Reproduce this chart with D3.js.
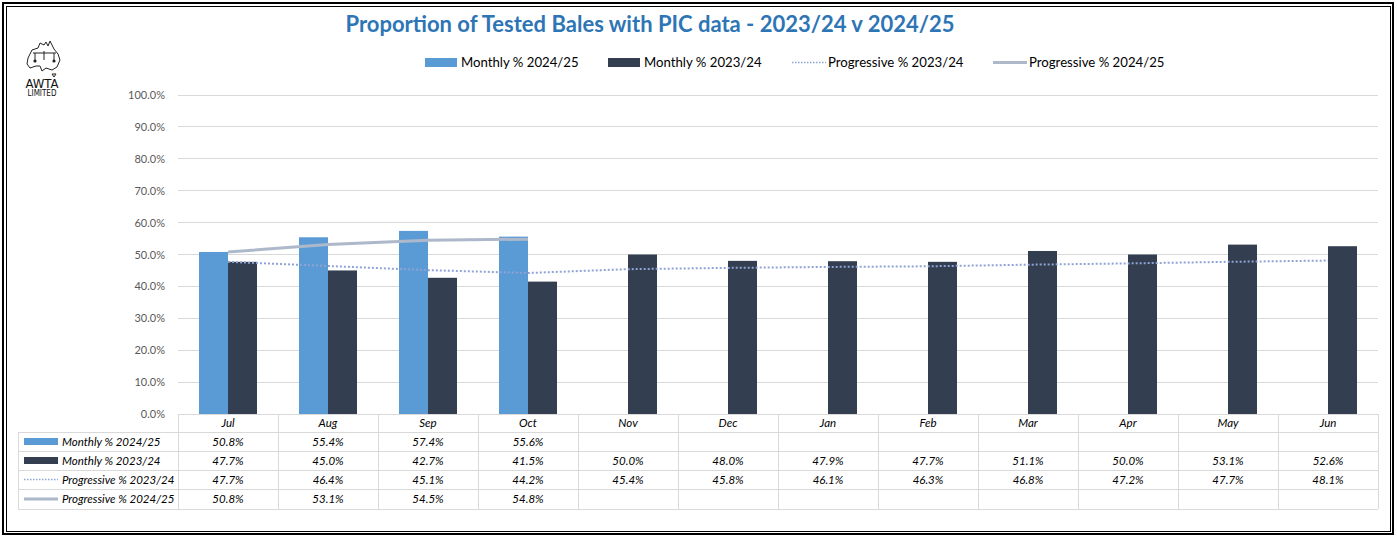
<!DOCTYPE html>
<html><head><meta charset="utf-8">
<script src="https://cdn.jsdelivr.net/npm/d3@7"></script>
<style>
html,body{margin:0;padding:0;background:#fff;}
svg{display:block;font-family:Lato,"Open Sans",sans-serif;}
</style></head>
<body><svg id="c" width="1397" height="538"></svg>
<script>
const months = ["Jul","Aug","Sep","Oct","Nov","Dec","Jan","Feb","Mar","Apr","May","Jun"];
const monthly2425 = [50.8,55.4,57.4,55.6];
const monthly2324 = [47.7,45.0,42.7,41.5,50.0,48.0,47.9,47.7,51.1,50.0,53.1,52.6];
const progressive2324 = [47.7,46.4,45.1,44.2,45.4,45.8,46.1,46.3,46.8,47.2,47.7,48.1];
const progressive2425 = [50.8,53.1,54.5,54.8];
const yTicks = [0,10,20,30,40,50,60,70,80,90,100];
const seriesNames = ["Monthly % 2024/25","Monthly % 2023/24","Progressive % 2023/24","Progressive % 2024/25"];
const titleText = "Proportion of Tested Bales with PIC data - 2023/24 v 2024/25";

const C_LIGHT="#5B9BD5", C_DARK="#333F50", C_DOT="#8FA3D6", C_GRAY="#ADB9CA";
const svg = d3.select("#c");

// frame
svg.append("rect").attr("x",3).attr("y",3).attr("width",1390).attr("height",531).attr("fill","none").attr("stroke","#000").attr("stroke-width",2);
svg.append("rect").attr("x",6.5).attr("y",6.5).attr("width",1384).attr("height",525).attr("fill","none").attr("stroke","#000").attr("stroke-width",1);

// title
svg.append("text").attr("x",650).attr("y",32).attr("text-anchor","middle")
  .attr("font-size",22).attr("font-weight","bold").attr("fill","#2E75B6").text(titleText);

// logo
const logo = svg.append("g").attr("transform","translate(24,40)");
logo.append("path").attr("d","M4,18 L8,10 L14,8 L16,3 L20,5 L22,2 L24,6 L26,1 L30,9 L34,14 L36,20 L33,27 L28,30 L22,28 L18,31 L16,26 L12,26 L6,28 L3,24 Z")
  .attr("fill","none").attr("stroke","#222").attr("stroke-width",1);
logo.append("path").attr("d","M9,13 L32,13 M11,13 L11,20 M20,11 L20,20 M30,13 L30,20 M28,34 L32,34 L30,37 Z").attr("fill","none").attr("stroke","#222").attr("stroke-width",1);
logo.append("circle").attr("cx",11).attr("cy",21).attr("r",1.6).attr("fill","#222");
logo.append("circle").attr("cx",30).attr("cy",21).attr("r",1.6).attr("fill","#222");
logo.append("text").attr("x",18).attr("y",48).attr("text-anchor","middle").attr("font-size",13).attr("font-family","'Liberation Sans Narrow','DejaVu Sans Condensed',sans-serif").attr("fill","#111").text("AWTA");
logo.append("text").attr("x",18).attr("y",56).attr("text-anchor","middle").attr("font-size",8).attr("font-family","'Liberation Sans Narrow','DejaVu Sans Condensed',sans-serif").attr("fill","#111").text("LIMITED");

// scales
const x = d3.scaleBand().domain(months).range([178,1378]);
const y = d3.scaleLinear().domain([0,100]).range([414,95]);
const bw = 29;

// gridlines
svg.append("g").selectAll("line").data(yTicks.slice(1)).join("line")
  .attr("x1",178).attr("x2",1378).attr("y1",d=>y(d)).attr("y2",d=>y(d))
  .attr("stroke","#D9D9D9").attr("stroke-width",1).attr("shape-rendering","crispEdges");

// y axis labels
const yAxis = d3.axisLeft(y).tickValues(yTicks).tickFormat(d=>d3.format(".1f")(d)+"%").tickSize(0).tickPadding(0);
const ya = svg.append("g").attr("transform","translate(165,0)").call(yAxis);
ya.select(".domain").remove();
ya.selectAll("text").attr("font-size",11).attr("fill","#595959").attr("font-family","Lato,sans-serif");

// bars
const cx = m => x(m) + x.bandwidth()/2;
svg.append("g").selectAll("rect").data(monthly2425).join("rect")
  .attr("x",(d,i)=>cx(months[i])-bw).attr("width",bw)
  .attr("y",d=>y(d)).attr("height",d=>y(0)-y(d)).attr("fill",C_LIGHT);
svg.append("g").selectAll("rect").data(monthly2324).join("rect")
  .attr("x",(d,i)=>cx(months[i])).attr("width",bw)
  .attr("y",d=>y(d)).attr("height",d=>y(0)-y(d)).attr("fill",C_DARK);

// lines
const line = d3.line().x((d,i)=>cx(months[i])).y(d=>y(d));
svg.append("path").datum(progressive2324).attr("d",line).attr("fill","none")
  .attr("stroke",C_DOT).attr("stroke-width",2).attr("stroke-dasharray","2,2");
svg.append("path").datum(progressive2425).attr("d",line).attr("fill","none")
  .attr("stroke",C_GRAY).attr("stroke-width",3);

// legend
const legend = svg.append("g").attr("font-size",13.2).attr("fill","#000");
const legItems = [
  {x:425, type:"rect", color:C_LIGHT, name:seriesNames[0]},
  {x:608, type:"rect", color:C_DARK, name:seriesNames[1]},
  {x:792, type:"dot", color:C_DOT, name:seriesNames[2]},
  {x:993, type:"line", color:C_GRAY, name:seriesNames[3]}
];
legItems.forEach(it=>{
  if(it.type==="rect") legend.append("rect").attr("x",it.x).attr("y",58).attr("width",32).attr("height",9).attr("fill",it.color);
  else legend.append("line").attr("x1",it.x).attr("x2",it.x+34).attr("y1",62.5).attr("y2",62.5)
    .attr("stroke",it.color).attr("stroke-width",it.type==="dot"?1.5:3).attr("stroke-dasharray",it.type==="dot"?"1.5,1.5":null);
  legend.append("text").attr("x",it.x+36).attr("y",67).attr("fill","#000").text(it.name);
});

// data table
const tbl = svg.append("g");
const rowY = [414,432,451,470,489,509];
const gridC = "#D9D9D9";
tbl.append("line").attr("x1",178).attr("x2",1378).attr("y1",414.5).attr("y2",414.5).attr("stroke",gridC);
rowY.slice(1).forEach(yy=>tbl.append("line").attr("x1",18).attr("x2",1378).attr("y1",yy+0.5).attr("y2",yy+0.5).attr("stroke",gridC));
const colX = months.map(m=>x(m)).concat([1378]);
colX.forEach(xx=>tbl.append("line").attr("x1",Math.round(xx)+0.5).attr("x2",Math.round(xx)+0.5).attr("y1",414).attr("y2",509).attr("stroke",gridC));
tbl.append("line").attr("x1",18.5).attr("x2",18.5).attr("y1",432).attr("y2",509).attr("stroke",gridC);

const tf = {"font-size":11.5,"font-style":"italic","fill":"#000"};
function txt(g,xx,yy,s,anchor){const t=g.append("text").attr("x",xx).attr("y",yy).attr("text-anchor",anchor||"middle").text(s);
  Object.entries(tf).forEach(([k,v])=>t.attr(k,v));return t;}
months.forEach(m=>txt(tbl,cx(m),427,m));
const rows = [monthly2425, monthly2324, progressive2324, progressive2425];
const fmt = d=>d3.format(".1f")(d)+"%";
rows.forEach((vals,r)=>{
  const yy = (rowY[r+1]+rowY[r+2])/2 + 4;
  vals.forEach((v,i)=>txt(tbl,cx(months[i]),yy,fmt(v)));
  const ky = (rowY[r+1]+rowY[r+2])/2;
  if(r<2) tbl.append("rect").attr("x",24).attr("y",ky-3.5).attr("width",34).attr("height",7).attr("fill",r===0?C_LIGHT:C_DARK);
  else tbl.append("line").attr("x1",24).attr("x2",58).attr("y1",ky).attr("y2",ky).attr("stroke",r===2?C_DOT:C_GRAY)
    .attr("stroke-width",r===2?1.5:3).attr("stroke-dasharray",r===2?"1.5,1.5":null);
  txt(tbl,62,yy,seriesNames[r],"start");
});
</script></body></html>
